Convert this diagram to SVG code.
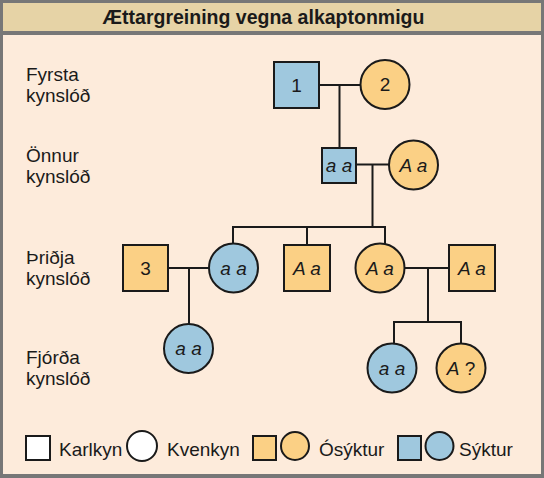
<svg xmlns="http://www.w3.org/2000/svg" width="544" height="478" viewBox="0 0 544 478">
<style>
.lbl{font-family:"Liberation Sans",Arial,sans-serif;font-size:19px;fill:#1a1a1a}
.nt{font-family:"Liberation Sans",Arial,sans-serif;font-size:19px;fill:#1a1a1a;text-anchor:middle}
.it{font-style:italic}
.aff{fill:#9fc8de;stroke:#1a1a1a;stroke-width:2}
.un{fill:#fbd085;stroke:#1a1a1a;stroke-width:2}
.wh{fill:#fff;stroke:#1a1a1a;stroke-width:2}
.ln{stroke:#1a1a1a;stroke-width:2;fill:none}
</style>
<rect x="0" y="0" width="544" height="478" fill="#777"/>
<rect x="3" y="3" width="538" height="28" fill="#e6d3a6"/>
<rect x="3" y="35" width="538" height="439" fill="#fdebdb"/>
<text x="263.5" y="24" text-anchor="middle" style="font-family:'Liberation Sans',Arial,sans-serif;font-size:19.5px;font-weight:bold;fill:#1a1a1a">Ættargreining vegna alkaptonmigu</text>

<g id="gen-labels">
<text class="lbl" x="26" y="81">Fyrsta</text><text class="lbl" x="26" y="102">kynslóð</text>
<text class="lbl" x="26" y="162">Önnur</text><text class="lbl" x="26" y="183">kynslóð</text>
<text class="lbl" x="26" y="264">Þriðja</text><text class="lbl" x="26" y="285">kynslóð</text>
<text class="lbl" x="26" y="364">Fjórða</text><text class="lbl" x="26" y="385">kynslóð</text>
</g>

<g id="connectors">
<path class="ln" d="M319 85H361M339.5 85V148"/>
<path class="ln" d="M356 164.5H390M372.5 164.5V227"/>
<path class="ln" d="M233 244V227H385V244M307 227V244"/>
<path class="ln" d="M168 268H209M189 268V324"/>
<path class="ln" d="M405 268H449M428 268V322M394 343V322H461V344"/>
</g>

<g id="n1"><rect class="aff" x="274" y="62" width="45" height="46"/><text class="nt" x="296.5" y="92">1</text></g>
<g id="n2"><circle class="un" cx="385" cy="84.5" r="24.5"/><text class="nt" x="385" y="91">2</text></g>
<g id="n-g2-m"><rect class="aff" x="322" y="148" width="34" height="35"/><text class="nt it" x="339" y="172">a a</text></g>
<g id="n-g2-f"><circle class="un" cx="413.5" cy="165" r="24.5"/><text class="nt it" x="413.5" y="172">A a</text></g>
<g id="n3"><rect class="un" x="123" y="245" width="45" height="46"/><text class="nt" x="145.5" y="275">3</text></g>
<g id="n-g3-f1"><circle class="aff" cx="233.5" cy="268" r="24.5"/><text class="nt it" x="233.5" y="275">a a</text></g>
<g id="n-g3-m2"><rect class="un" x="284" y="245" width="46" height="46"/><text class="nt it" x="307" y="275">A a</text></g>
<g id="n-g3-f2"><circle class="un" cx="380" cy="268" r="24.5"/><text class="nt it" x="380" y="275">A a</text></g>
<g id="n-g3-m3"><rect class="un" x="449" y="245" width="46" height="46"/><text class="nt it" x="472" y="275">A a</text></g>
<g id="n-g4-f1"><circle class="aff" cx="188.5" cy="348.5" r="24.5"/><text class="nt it" x="188.5" y="355">a a</text></g>
<g id="n-g4-f2"><circle class="aff" cx="392" cy="368" r="24.5"/><text class="nt it" x="392" y="375">a a</text></g>
<g id="n-g4-f3"><circle class="un" cx="461" cy="368" r="24.5"/><text class="nt" x="461" y="375"><tspan class="it">A</tspan> ?</text></g>

<g id="legend">
<rect class="wh" x="26" y="436" width="24" height="24"/>
<text class="lbl" x="59" y="456">Karlkyn</text>
<circle class="wh" cx="142" cy="446" r="15"/>
<text class="lbl" x="167" y="456">Kvenkyn</text>
<rect class="un" x="253" y="436" width="23" height="24"/>
<circle class="un" cx="295" cy="446" r="14"/>
<text class="lbl" x="319" y="456">Ósýktur</text>
<rect class="aff" x="398" y="436" width="23" height="24"/>
<circle class="aff" cx="439.5" cy="446" r="14"/>
<text class="lbl" x="459" y="456">Sýktur</text>
</g>
</svg>
